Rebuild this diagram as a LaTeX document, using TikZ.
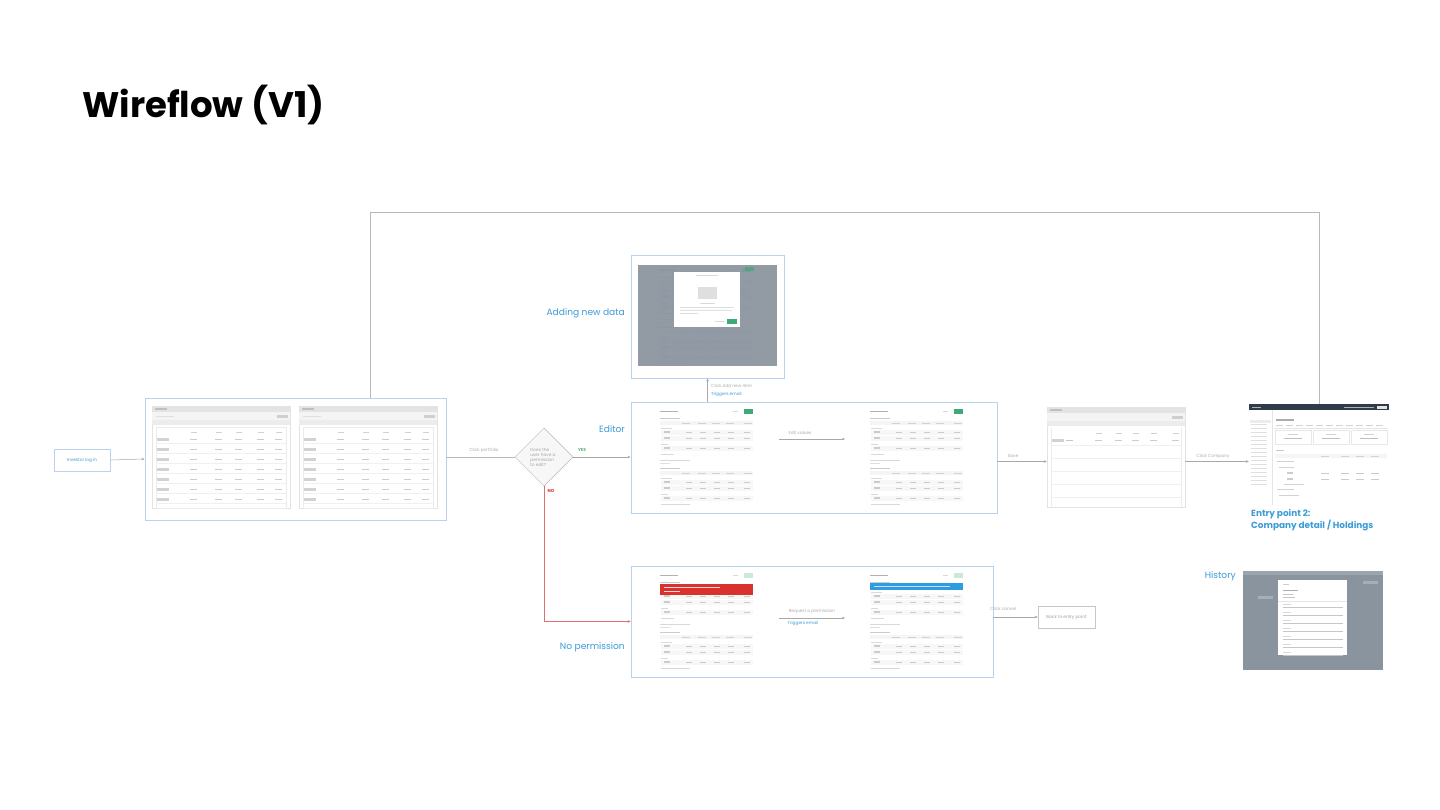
\documentclass[tikz,border=0pt]{standalone}
\usepackage{fontspec}
\setmainfont{Poppins}
\usetikzlibrary{arrows.meta,shapes.geometric}
\definecolor{fb}{HTML}{B9D3EC}
\definecolor{lblue}{HTML}{3B9CD6}
\definecolor{lgrey}{HTML}{A8A8A8}
\definecolor{dover}{HTML}{8A949E}
\definecolor{bred}{HTML}{D9322E}
\definecolor{lred}{HTML}{E07070}
\definecolor{bgreen}{HTML}{3DAA78}
\definecolor{ygreen}{HTML}{5DB37E}
\definecolor{bbar}{HTML}{2F9BE0}
\definecolor{navy}{HTML}{2F3B48}
\tikzset{
  frame/.style={draw=fb, line width=0.8pt, fill=white, inner sep=0pt},
  conn/.style={draw=lgrey, line width=0.5pt, -{Stealth[length=3pt,width=2.6pt]}},
  plainline/.style={draw=lgrey!80, line width=0.5pt},
  tiny/.style={font=\fontsize{4.3}{5}\selectfont, text=gray!65, inner sep=1pt},
  tinyb/.style={font=\fontsize{4.3}{5}\selectfont, text=lblue, inner sep=1pt},
  biglbl/.style={font=\fontsize{9.1}{11}\selectfont, text=lblue, inner sep=0pt},
  scr/.style={inner sep=0pt, draw=none},
  listscr/.pic={
    \fill[white] (0,0) rectangle (138,102);
    \draw[gray!22, line width=0.4pt] (0,0) rectangle (138,102);
    \fill[gray!22] (0,0) rectangle (138,6);
    \fill[gray!50] (3,2.4) rectangle (15,3.6);
    \fill[gray!9] (0,6) rectangle (138,14);
    \fill[gray!38] (125,8.5) rectangle (136,11.5);
    \fill[gray!25] (4,9.5) rectangle (22,10.5);
    \fill[gray!15] (0,14) rectangle (138,19);
    \draw[gray!15, line width=0.3pt] (4,21) rectangle (134,102);
    \foreach \x in {45,70,90,112,130} \fill[gray!35] (\x-6,25.5) rectangle (\x,26.3);
    \foreach \y in {33,43,...,93} {
      \fill[gray!35] (5,\y-1.5) rectangle (17,\y+1.5);
      \foreach \x in {45,70,90,112,130} \fill[gray!40] (\x-7,\y-0.5) rectangle (\x,\y+0.3);
      \draw[gray!12, line width=0.3pt] (4,\y+4.5) -- (134,\y+4.5);
    }
  },
  editrow/.pic={
    \fill[gray!6] (1,-2.5) rectangle (93,2.5);
    \fill[gray!40] (4,-1.3) rectangle (10,1.3);
    \foreach \x in {32,46,60,74,90} \fill[gray!40] (\x-6,-0.4) rectangle (\x,0.4);
  },
  editscr/.pic={
    \fill[gray!60] (0,2.5) rectangle (18,4);
    \fill[gray!30] (73,2.8) rectangle (78,3.8);
    \fill[bgreen] (84,1) rectangle (93,5.5);
    \fill[gray!40] (0,10) rectangle (20,11);
    \fill[gray!8] (0,13) rectangle (93,17);
    \foreach \x in {30,46,60,74,92} \fill[gray!35] (\x-8,14.6) rectangle (\x,15.4);
    \fill[gray!30] (1,19.5) rectangle (12,20.3);
    \pic at (0,24) {editrow}; \pic at (0,30) {editrow};
    \fill[gray!30] (1,35.5) rectangle (8,36.3);
    \pic at (0,40) {editrow};
    \fill[gray!30] (1,45.5) rectangle (14,46.3);
    \fill[gray!30] (0,52) rectangle (30,52.8);
    \fill[gray!25] (0,55) rectangle (10,55.8);
    \fill[gray!40] (0,60) rectangle (20,61);
    \fill[gray!8] (0,63) rectangle (93,67);
    \foreach \x in {30,46,60,74,92} \fill[gray!35] (\x-8,64.6) rectangle (\x,65.4);
    \fill[gray!30] (1,69.5) rectangle (12,70.3);
    \pic at (0,74) {editrow}; \pic at (0,80) {editrow};
    \fill[gray!30] (1,85.5) rectangle (8,86.3);
    \pic at (0,90) {editrow};
    \fill[gray!30] (1,95.5) rectangle (30,96.3);
  },
}
\begin{document}
\begin{tikzpicture}[x=1pt,y=-1pt]
\useasboundingbox[fill=white] (0,0) rectangle (1440,810);

% title
\node[anchor=base west, inner sep=0pt, font=\fontsize{35.5}{38}\selectfont\bfseries] (title) at (82,118) {Wireflow (V1)};

% investor log in
\node[frame, minimum width=56pt, minimum height=22pt, font=\fontsize{4.3}{5}\selectfont, text=lblue] (inv) at (82,460) {Investor log in};

% portfolio group
\node[frame, minimum width=301pt, minimum height=122pt] (grp) at (295.5,459) {};
\pic at (152,406) {listscr};
\pic at (299,406) {listscr};

% diamond
\node[diamond, draw=gray!55, fill=gray!6, line width=0.5pt, minimum width=58pt, minimum height=58pt, inner sep=0pt] (dia) at (544,457) {};
\node[align=left, font=\fontsize{4.3}{5}\selectfont, text=gray!70, inner sep=0pt] (diatext) at (543,457) {Does the\\user have a\\permission\\to edit?};

% editor
\node[frame, minimum width=366pt, minimum height=111pt] (editor) at (814,457.5) {};
\pic at (660,408) {editscr};
\pic at (870,408) {editscr};
\node[biglbl, anchor=east] (editorlbl) at (625,429) {Editor};

% adding new data
\node[frame, minimum width=153pt, minimum height=123pt] (adding) at (707.5,316.5) {};
\begin{scope}[shift={(638,265)}]
  \fill[white] (0,0) rectangle (139,101);
  \pic at (20,2) {editscr};
  \fill[dover, opacity=0.93] (0,0) rectangle (139,101);
  \fill[white] (36,7) rectangle (102,62);
  \fill[gray!30] (58,10) rectangle (80,11);
  \fill[gray!25] (60,22) rectangle (79,34);
  \fill[gray!30] (62,38) rectangle (77,39);
  \fill[gray!25] (42,42) rectangle (96,43);
  \fill[gray!25] (42,45) rectangle (94,46);
  \fill[gray!25] (42,48) rectangle (60,49);
  \fill[gray!30] (77,55.5) rectangle (86,56.5);
  \fill[bgreen] (89,54) rectangle (99,59);
  \fill[bgreen!70!dover] (107,2) rectangle (116,6);
\end{scope}
\node[biglbl, anchor=east] (addlbl) at (625,313) {Adding new data};

% no permission
\node[frame, minimum width=362pt, minimum height=111pt] (noperm) at (812,621.5) {};
\pic at (660,572) {editscr};
\fill[bred] (660,584) rectangle (753,595);
\fill[white!80!bred] (664,587) rectangle (720,587.8);
\fill[white!80!bred] (664,590.5) rectangle (680,591.3);
\fill[ygreen!30] (744,573) rectangle (753,577.5);
\pic at (870,572) {editscr};
\fill[bbar] (870,583) rectangle (963,590);
\fill[white!70!bbar] (874,586) rectangle (950,586.8);
\fill[ygreen!30] (954,573) rectangle (963,577.5);
\node[biglbl, anchor=east] (noplbl) at (625,647) {No permission};

% save screen
\node[scr, minimum width=138pt, minimum height=100pt] (savescr) at (1116,457) {};
\begin{scope}[shift={(1047,407)}]
  \fill[white] (0,0) rectangle (138,100);
  \draw[gray!22, line width=0.4pt] (0,0) rectangle (138,100);
  \fill[gray!22] (0,0) rectangle (138,6);
  \fill[gray!50] (3,2.4) rectangle (15,3.6);
  \fill[gray!9] (0,6) rectangle (138,14);
  \fill[gray!38] (125,8.5) rectangle (136,11.5);
  \fill[gray!15] (0,14) rectangle (138,19);
  \draw[gray!15, line width=0.3pt] (4,21) -- (4,100) (134,21) -- (134,100);
  \foreach \x in {55,75,92,110,132} \fill[gray!35] (\x-6,25.5) rectangle (\x,26.3);
  \fill[gray!35] (5,31.5) rectangle (17,34.5);
  \fill[gray!45] (19,32.5) rectangle (26,33.3);
  \foreach \x in {55,75,92,110,132} \fill[gray!40] (\x-7,32.5) rectangle (\x,33.3);
  \foreach \y in {38,51,...,99} \draw[gray!12, line width=0.3pt] (4,\y) -- (134,\y);
\end{scope}

% entry point 2
\node[scr, minimum width=140pt, minimum height=101pt] (entry2) at (1319,454.5) {};
\begin{scope}[shift={(1249,404)}]
  \fill[white] (0,0) rectangle (140,101);
  \fill[navy] (0,0) rectangle (140,6);
  \fill[white!60!navy] (3,2.5) rectangle (12,3.5);
  \fill[white!60!navy] (95,2.5) rectangle (125,3.5);
  \fill[white!85!navy] (128,1.5) rectangle (138,4.5);
  \draw[gray!20, line width=0.3pt] (23,6) -- (23,101);
  \foreach \y in {20,24,...,80} \fill[gray!25] (2,\y) rectangle (18,\y+0.8);
  \fill[gray!15] (1,16) rectangle (22,19);
  \fill[gray!65] (27,15) rectangle (45,17);
  \foreach \x in {27,37,...,127} \fill[gray!35] (\x,21) rectangle (\x+7,21.8);
  \draw[gray!20, line width=0.3pt] (25,24) -- (139,24);
  \foreach \x in {25,63,101} {
    \draw[gray!18, line width=0.3pt] (\x+1,26) rectangle (\x+37,40);
    \fill[gray!35] (\x+14,30) rectangle (\x+24,31);
    \fill[gray!50] (\x+10,33.5) rectangle (\x+28,34.5);
  }
  \fill[gray!45] (27,46) rectangle (35,47);
  \fill[gray!8] (26,50) rectangle (138,54);
  \foreach \x in {80,100,115,130} \fill[gray!35] (\x-8,51.5) rectangle (\x,52.3);
  \fill[gray!35] (28,57) rectangle (45,57.8);
  \fill[gray!35] (30,63) rectangle (45,63.8);
  \foreach \y in {69,75} {
    \fill[gray!40] (38,\y-1.2) rectangle (44,\y+1.2);
    \foreach \x in {80,100,115,130} \fill[gray!40] (\x-8,\y-0.4) rectangle (\x,\y+0.4);
  }
  \fill[gray!35] (35,80) rectangle (55,80.8);
  \fill[gray!35] (28,85) rectangle (45,85.8);
  \fill[gray!35] (30,91) rectangle (50,91.8);
\end{scope}
\node[anchor=north west, align=left, font=\fontsize{8.9}{9.2}\selectfont\bfseries, text=lblue, inner sep=0pt] (e2lbl) at (1251,509) {Entry point 2:\\Company detail / Holdings};

% history
\node[scr, minimum width=140pt, minimum height=99pt] (hist) at (1313,620.5) {};
\begin{scope}[shift={(1243,571)}]
  \fill[dover] (0,0) rectangle (140,99);
  \fill[white!15!dover] (0,0) rectangle (140,4);
  \fill[white!25!dover] (15,25) rectangle (30,28);
  \fill[white!25!dover] (120,10) rectangle (135,13);
  \fill[white] (35,9) rectangle (104,84);
  \fill[gray!40] (40,13) rectangle (46,14);
  \fill[gray!65] (40,19) rectangle (55,20.2);
  \fill[gray!45] (40,23) rectangle (50,24);
  \fill[gray!45] (40,26) rectangle (52,27);
  \draw[gray!20, line width=0.3pt] (35,30) -- (104,30);
  \foreach \y in {33,41,...,81} {
    \fill[gray!30] (40,\y) rectangle (48,\y+0.8);
    \fill[gray!45] (40,\y+3) rectangle (100,\y+3.8);
  }
\end{scope}
\node[biglbl, anchor=east] (histlbl) at (1236,576) {History};

% back to entry point
\node[draw=gray!45, fill=white, line width=0.5pt, minimum width=57pt, minimum height=22pt, font=\fontsize{4.3}{5}\selectfont, text=gray!75, inner sep=0pt] (back) at (1066.5,617) {Back to entry point};

% connectors
\draw[conn] (inv.east) -- (grp.west);
\draw[plainline] (grp.east |- dia.west) -- (dia.west);
\node[tiny] (cp) at (484,450) {Click portfolio};
\draw[conn] (dia.east) -- (dia.east -| editor.west);
\node[font=\fontsize{4.3}{5}\selectfont\bfseries, text=ygreen, inner sep=1pt] (yes) at (582,450) {YES};
\draw[conn, draw=lred] (dia.south) |- (noperm.west);
\node[font=\fontsize{4.3}{5}\selectfont\bfseries, text=bred, inner sep=1pt] (no) at (551,491) {NO};

\draw[conn] (adding.south |- editor.north) -- (adding.south);
\node[tiny, anchor=west] (cani) at (710,386) {Click Add new item};
\node[tinyb, anchor=west] (trig1) at (710,394) {Triggers email};

\coordinate (ev1) at (779,439);
\coordinate (ev2) at (845,439);
\draw[conn] (ev1) -- (ev2);
\node[tiny] (evl) at (800,433) {Edit values};

\coordinate (sv) at (997,461.5);
\draw[conn] (sv) -- (sv -| savescr.west);
\node[tiny] (svl) at (1013,456) {Save};
\draw[conn] (sv -| savescr.east) -- (sv -| entry2.west);
\node[tiny] (ccl) at (1213,456) {Click Company};

\coordinate (lt) at (370,212);
\coordinate (rt) at (1319,212);
\draw[plainline] (grp.north -| lt) -- (lt) -- (rt) -- (entry2.north -| rt);

\coordinate (rq1) at (779,618);
\coordinate (rq2) at (845,618);
\draw[conn] (rq1) -- (rq2);
\node[tiny] (rql) at (812,611) {Request a permission};
\node[tinyb] (trig2) at (803,623) {Triggers email};

\draw[conn] (noperm.east |- back.west) -- (back.west);
\node[tiny, anchor=west] (ccan) at (989,609) {Click cancel};
\end{tikzpicture}
\end{document}
